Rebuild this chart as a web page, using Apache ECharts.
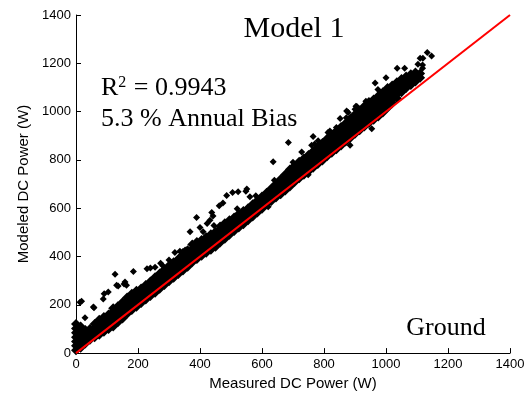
<!DOCTYPE html>
<html>
<head>
<meta charset="utf-8">
<script src="https://cdn.jsdelivr.net/npm/echarts@6/dist/echarts.min.js"></script>
<style>
  html, body { margin: 0; padding: 0; background: #fff; }
  #chart { width: 531px; height: 396px; }
</style>
</head>
<body>
<div id="chart"></div>
<script>
// Axis ticks (W)
const tickValues = [0, 200, 400, 600, 800, 1000, 1200, 1400];

// Dense body of the measured/modeled cloud: [measured, [modeled values...]]
const bandColumns = [
  [0, [12, 30, 48, 66, 84, 102, 120]],
  [15, [22, 40, 58, 76, 94, 110]],
  [30, [40, 58, 76, 96]],
  [45, [55, 72, 90, 100]],
  [60, [66, 84, 102, 120]],
  [75, [76, 94, 112, 130, 138]],
  [90, [88, 106, 124, 142, 150]],
  [105, [100, 118, 136, 154, 160]],
  [120, [110, 128, 146, 164, 172, 186]],
  [135, [128, 146, 164, 180, 194]],
  [150, [143, 161, 179, 197, 211]],
  [165, [163, 181, 199, 218, 230]],
  [180, [178, 196, 214, 232, 246]],
  [195, [192, 210, 228, 244, 258]],
  [210, [207, 225, 243, 254, 268]],
  [225, [222, 240, 258, 268, 282]],
  [240, [236, 254, 272, 282, 296]],
  [255, [250, 268, 286, 300, 314]],
  [270, [266, 284, 302, 316, 330]],
  [285, [282, 300, 318, 332, 346]],
  [300, [297, 315, 333, 348, 362]],
  [315, [312, 330, 348, 362, 376]],
  [330, [328, 346, 364, 376, 390]],
  [345, [342, 360, 378, 394, 408]],
  [360, [358, 376, 394, 412, 426]],
  [375, [376, 394, 412, 430, 450]],
  [390, [390, 408, 426, 444, 460]],
  [405, [403, 421, 439, 457, 468]],
  [420, [416, 434, 452, 470, 480]],
  [435, [428, 446, 464, 482, 492]],
  [450, [440, 458, 476, 494, 502]],
  [465, [458, 476, 494, 512, 524]],
  [480, [474, 492, 510, 525, 538]],
  [495, [490, 508, 526, 538, 550]],
  [510, [506, 524, 542, 550, 562]],
  [525, [520, 538, 556, 562, 576]],
  [540, [534, 552, 570, 574, 588]],
  [555, [550, 568, 586, 588, 600]],
  [570, [566, 584, 602, 616]],
  [585, [582, 600, 620, 632]],
  [600, [598, 616, 635, 648]],
  [615, [616, 634, 650, 664]],
  [630, [630, 648, 666, 670, 682]],
  [645, [644, 662, 680, 690, 700]],
  [660, [658, 676, 694, 710, 720]],
  [675, [673, 691, 709, 730, 740]],
  [690, [690, 708, 726, 750, 760]],
  [705, [708, 726, 744, 765, 776]],
  [720, [724, 742, 760, 780, 792]],
  [735, [738, 756, 774, 795, 806]],
  [750, [753, 771, 789, 808, 820]],
  [765, [768, 786, 804, 825, 836]],
  [780, [783, 801, 819, 842, 852]],
  [795, [798, 816, 834, 852, 860, 870]],
  [810, [815, 833, 851, 869, 878, 888]],
  [825, [830, 848, 866, 884, 895, 905]],
  [840, [844, 862, 880, 898, 910, 920]],
  [855, [860, 878, 896, 914, 925, 936]],
  [870, [876, 894, 912, 930, 942, 952]],
  [885, [892, 910, 928, 946, 960, 970]],
  [900, [908, 926, 944, 962, 978, 988]],
  [915, [923, 941, 959, 977, 995, 1005]],
  [930, [938, 956, 974, 992, 1014, 1022]],
  [945, [953, 971, 989, 1007, 1032, 1040]],
  [960, [966, 984, 1002, 1020, 1038, 1050]],
  [975, [980, 998, 1016, 1034, 1052, 1065]],
  [990, [996, 1014, 1032, 1050, 1068, 1080]],
  [1005, [1016, 1034, 1052, 1070, 1088, 1098]],
  [1020, [1035, 1053, 1071, 1089, 1108]],
  [1035, [1055, 1073, 1091, 1109, 1122]],
  [1050, [1080, 1098, 1116, 1135]],
  [1065, [1098, 1116, 1134, 1145]],
  [1080, [1110, 1128, 1146, 1155]],
  [1095, [1125, 1143, 1162]],
  [1110, [1140, 1158]]
];

// Isolated hours away from the main cloud: [measured, modeled]
const outlierPoints = [
  [13, 211], [18, 215], [29, 146], [56, 191], [58, 188], [91, 246], [104, 253],
  [88, 224], [126, 326], [131, 281], [136, 278], [155, 286], [163, 281], [158, 294],
  [185, 338], [229, 349], [240, 352], [255, 355], [273, 372], [319, 417], [335, 422],
  [352, 427], [368, 502], [389, 561], [400, 520], [423, 537], [432, 550], [438, 582],
  [442, 568], [462, 610], [474, 622], [486, 653], [505, 665], [523, 668], [548, 670],
  [561, 647], [551, 680], [620, 606], [636, 792], [685, 872], [728, 833], [749, 738],
  [760, 861], [765, 897], [781, 879], [813, 913], [819, 920], [852, 971], [872, 975],
  [878, 996], [873, 1002], [884, 861], [903, 1022], [906, 1021], [935, 1043], [954, 929],
  [965, 1118], [974, 1091], [1036, 1180], [1103, 1196], [1110, 1221], [1118, 1193],
  [1118, 1180], [1119, 1221], [1133, 1245], [1147, 1230],
  [280, 362], [300, 386], [345, 421], [410, 502], [445, 528], [520, 598], [580, 652],
  [640, 716], [700, 790], [770, 866], [840, 934], [900, 1010], [1000, 1140], [1060, 1180]
];

// 1:1 reference line
const unityLine = [[0, 0], [1400, 1400]];

const bandPoints = [];
bandColumns.forEach(([m, vals]) => vals.forEach(v => bandPoints.push([m, v])));

const chart = echarts.init(document.getElementById('chart'), null, { renderer: 'canvas' });

const axisCommon = {
  type: 'value',
  min: tickValues[0],
  max: tickValues[tickValues.length - 1],
  interval: tickValues[1] - tickValues[0],
  axisLine: { show: true, lineStyle: { color: '#000', width: 1 } },
  axisTick: { show: true, inside: true, length: 5, lineStyle: { color: '#000' } },
  splitLine: { show: false },
  axisLabel: {
    color: '#000', fontFamily: 'Liberation Sans', fontSize: 13, margin: 5,
    formatter: v => String(v)
  },
  nameLocation: 'middle',
  nameTextStyle: { color: '#000', fontFamily: 'Liberation Sans', fontSize: 15 }
};

chart.setOption({
  animation: false,
  backgroundColor: '#fff',
  grid: { left: 76, right: 21, top: 15, bottom: 40, containLabel: false },
  xAxis: Object.assign({}, axisCommon, { name: 'Measured DC Power (W)', nameGap: 21 }),
  yAxis: Object.assign({}, axisCommon, { name: 'Modeled DC Power (W)', nameGap: 39 }),
  series: [
    {
      type: 'scatter',
      data: bandPoints,
      symbol: 'diamond',
      symbolSize: 10,
      itemStyle: { color: '#000', opacity: 1 },
      clip: false,
      z: 2
    },
    {
      type: 'scatter',
      data: outlierPoints,
      symbol: 'diamond',
      symbolSize: 7,
      itemStyle: { color: '#000', opacity: 1 },
      clip: false,
      z: 2
    },
    {
      type: 'line',
      data: unityLine,
      symbol: 'none',
      lineStyle: { color: '#ff0000', width: 2 },
      z: 3
    }
  ],
  graphic: [
    {
      type: 'text',
      x: 294, y: 29,
      style: {
        text: 'Model 1',
        font: '30px "Liberation Serif"',
        fill: '#000',
        align: 'center',
        verticalAlign: 'middle'
      }
    },
    {
      type: 'text',
      x: 101, y: 88,
      style: {
        text: '{a|R}{s|2}{a| = 0.9943}',
        rich: {
          a: { fontFamily: 'Liberation Serif', fontSize: 26, fill: '#000', color: '#000' },
          s: { fontFamily: 'Liberation Serif', fontSize: 16, fill: '#000', color: '#000', verticalAlign: 'top', padding: [0, 1, 10, 0] }
        },
        verticalAlign: 'middle'
      }
    },
    {
      type: 'text',
      x: 101, y: 119,
      style: {
        text: '5.3 % Annual Bias',
        font: '26px "Liberation Serif"',
        fill: '#000',
        verticalAlign: 'middle'
      }
    },
    {
      type: 'text',
      x: 446, y: 328,
      style: {
        text: 'Ground',
        font: '26px "Liberation Serif"',
        fill: '#000',
        align: 'center',
        verticalAlign: 'middle'
      }
    }
  ]
});
</script>
</body>
</html>
